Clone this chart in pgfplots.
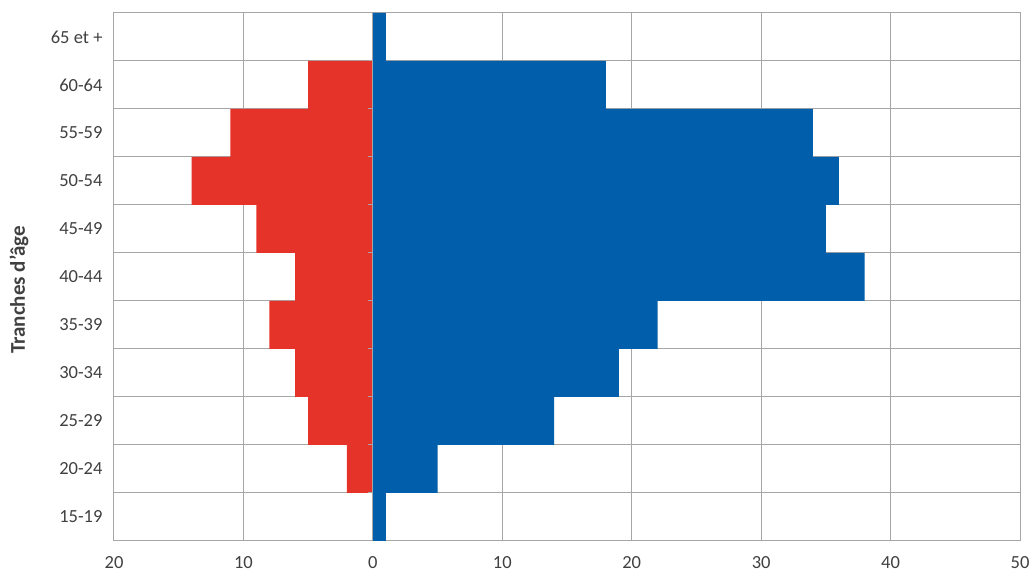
\documentclass[border=0pt]{standalone}
\usepackage{pgfplots}
\pgfplotsset{compat=1.18}
\usepackage{fontspec}
\setmainfont{Carlito}
\definecolor{pyrred}{RGB}{229,51,41}
\definecolor{pyrblue}{RGB}{0,94,170}
\definecolor{gridgray}{RGB}{166,166,166}
\definecolor{txt}{RGB}{64,64,64}
\begin{document}
\begin{tikzpicture}
\path[use as bounding box] (-114pt,-36pt) rectangle (916pt,541pt);
\begin{axis}[
  at={(0pt,0pt)}, anchor=south west,
  scale only axis, width=906pt, height=528pt,
  xmin=-20, xmax=50, ymin=-0.5, ymax=10.5,
  xbar, bar width=48pt, bar shift=0pt,
  xtick={-20,-10,...,50}, xmajorgrids,
  ytick={0,...,10},
  yticklabels={15-19,20-24,25-29,30-34,35-39,40-44,45-49,50-54,55-59,60-64,65 et +},
  minor ytick={-0.5,0.5,...,10.5}, yminorgrids,
  major tick length=0pt, minor tick length=0pt,
  grid style={gridgray, line width=1pt},
  minor grid style={gridgray, line width=1pt},
  axis line style={gridgray, line width=1pt},
  tick label style={font=\fontsize{18.5}{22}\selectfont, text=txt},
  /pgf/number format/assume math mode=true,
  xticklabel={\pgfmathparse{abs(\tick)}\pgfmathprintnumber{\pgfmathresult}},
  xticklabel style={yshift=-12pt},
  yticklabel style={xshift=-8pt},
]
\addplot[fill=pyrred, draw=none] coordinates {
  (0,0) (-2,1) (-5,2) (-6,3) (-8,4) (-6,5) (-9,6) (-14,7) (-11,8) (-5,9) (0,10)};
\addplot[fill=pyrblue, draw=none] coordinates {
  (1,0) (5,1) (14,2) (19,3) (22,4) (38,5) (35,6) (36,7) (34,8) (18,9) (1,10)};
\draw[gridgray, line width=1pt] (axis cs:0,-0.5) -- (axis cs:0,10.5);
\pgfplotsinvokeforeach{0.5,1.5,...,9.5}{
  \draw[gridgray, line width=1pt] (axis cs:0,#1) -- ++(-5pt,0pt);
}
\end{axis}
\node[rotate=90, font=\bfseries\fontsize{21}{25}\selectfont, text=txt] at (-95pt,251pt) {Tranches d’âge};
\end{tikzpicture}
\end{document}
